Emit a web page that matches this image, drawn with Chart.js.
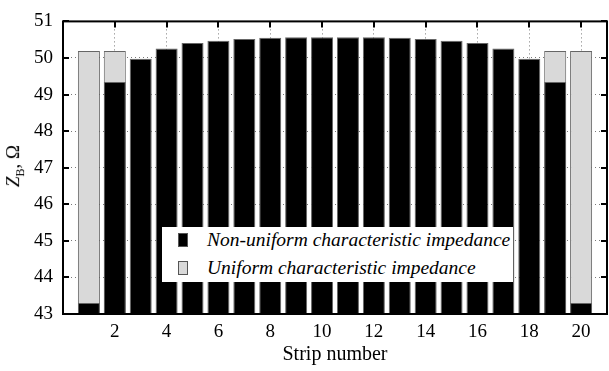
<!DOCTYPE html>
<html lang="en">
<head>
  <meta charset="UTF-8">
  <title>Z_B vs strip number</title>
  <script src="https://cdn.jsdelivr.net/npm/chart.js"></script>
  <style>
    html, body { margin: 0; padding: 0; background: #fff; }
    #wrap { position: relative; width: 609px; height: 371px; font-family: "Liberation Serif", serif; }
    #yTitle { position: absolute; left: 15px; top: 166px; transform: translate(-50%, -50%) rotate(-90deg); font-size: 19px; white-space: nowrap; }
    #yTitle sub { font-size: 12px; }
    #xTitle { position: absolute; left: 335px; top: 342px; transform: translateX(-50%); font-size: 20px; white-space: nowrap; }
    #legend { position: absolute; left: 162px; top: 227px; width: 351px; height: 55px; background: #fff; }
    .row { position: absolute; left: 0; height: 22px; font-style: italic; font-size: 19.5px; white-space: nowrap; }
    .row span.box { position: absolute; left: 16px; top: 4px; width: 10px; height: 14px; box-sizing: border-box; }
    .row span.txt { position: absolute; left: 45px; top: 0; line-height: 22px; }
  </style>
</head>
<body>
  <div id="wrap">
    <canvas id="grafico"></canvas>
    <div id="yTitle"><i>Z</i><sub>B</sub>, Ω</div>
    <div id="xTitle">Strip number</div>
    <div id="legend"></div>
  </div>

  <script>
    // dados
    const strips = [1, 2, 3, 4, 5, 6, 7, 8, 9, 10, 11, 12, 13, 14, 15, 16, 17, 18, 19, 20];
    const nonUniform = [43.3, 49.34, 49.98, 50.26, 50.41, 50.47, 50.52, 50.55, 50.57, 50.57,
                        50.57, 50.57, 50.55, 50.52, 50.47, 50.41, 50.26, 49.98, 49.34, 43.3];
    const uniform = [50.19, 50.19, null, null, null, null, null, null, null, null,
                     null, null, null, null, null, null, null, null, 50.19, 50.19];
    const xTicks = [2, 4, 6, 8, 10, 12, 14, 16, 18, 20];
    const yTicks = [43, 44, 45, 46, 47, 48, 49, 50, 51];
    const labels = ['Non-uniform characteristic impedance', 'Uniform characteristic impedance'];

    const toPoints = (vals) => strips.map((s, i) => ({ x: s, y: vals[i] })).filter(p => p.y !== null);

    // moldura + marcas internas
    const frame = {
      id: 'frame',
      afterDatasetsDraw(chart) {
        const { ctx, chartArea: a, scales } = chart;
        ctx.save();
        ctx.strokeStyle = '#000';
        ctx.lineWidth = 2;
        ctx.beginPath();
        yTicks.forEach(v => {
          const y = Math.round(scales.y.getPixelForValue(v));
          ctx.moveTo(a.left, y); ctx.lineTo(a.left + 6, y);
          ctx.moveTo(a.right, y); ctx.lineTo(a.right - 6, y);
        });
        xTicks.forEach(v => {
          const x = Math.round(scales.x.getPixelForValue(v));
          ctx.moveTo(x, a.top); ctx.lineTo(x, a.top + 6);
          ctx.moveTo(x, a.bottom); ctx.lineTo(x, a.bottom - 6);
        });
        ctx.stroke();
        ctx.strokeRect(a.left, a.top, a.right - a.left, a.bottom - a.top);
        ctx.restore();
      }
    };

    const fonte = { family: '"Liberation Serif", serif', size: 19 };

    const ctx = document.getElementById('grafico').getContext('2d');
    const grafico = new Chart(ctx, {
      type: 'bar',
      data: {
        datasets: [{
          label: labels[0],
          data: toPoints(nonUniform),
          backgroundColor: '#000',
          borderColor: '#666',
          borderWidth: 1
        }, {
          label: labels[1],
          data: toPoints(uniform),
          backgroundColor: '#d9d9d9',
          borderColor: '#666',
          borderWidth: 1
        }]
      },
      options: {
        responsive: true,
        maintainAspectRatio: false,
        animation: false,
        grouped: false,
        barPercentage: 0.85,
        categoryPercentage: 1,
        layout: { padding: { left: 0, top: 11, right: 2, bottom: 0 } },
        plugins: { legend: { display: false }, tooltip: { enabled: false } },
        scales: {
          x: {
            type: 'linear',
            min: 0,
            max: 21,
            offset: false,
            afterBuildTicks: (s) => { s.ticks = xTicks.map(v => ({ value: v })); },
            afterFit: (s) => { s.height = 57; },
            grid: { color: '#777', lineWidth: 1, drawTicks: false, offset: false },
            border: { display: false, dash: [1, 3] },
            ticks: { color: '#000', padding: 7, font: fonte, maxRotation: 0 }
          },
          y: {
            min: 43,
            max: 51,
            afterBuildTicks: (s) => { s.ticks = yTicks.map(v => ({ value: v })); },
            afterFit: (s) => { s.width = 63; },
            grid: { color: '#777', lineWidth: 1, drawTicks: false },
            border: { display: false, dash: [1, 3] },
            ticks: { color: '#000', padding: 10, font: fonte }
          }
        }
      },
      plugins: [frame]
    });

    // legenda dentro do gráfico
    const leg = document.getElementById('legend');
    grafico.data.datasets.forEach((ds, i) => {
      const row = document.createElement('div');
      row.className = 'row';
      row.style.top = (2 + i * 28) + 'px';
      row.innerHTML = '<span class="box" style="background:' + ds.backgroundColor +
        ';border:1px solid #555"></span><span class="txt">' + ds.label + '</span>';
      leg.appendChild(row);
    });
  </script>
</body>
</html>
